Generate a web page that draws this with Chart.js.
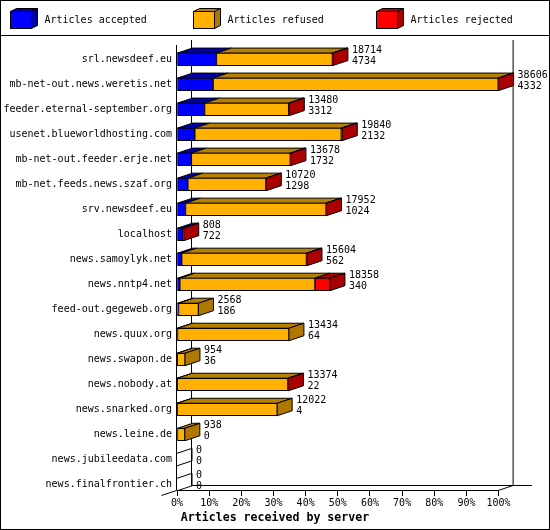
<!DOCTYPE html>
<html>
<head>
<meta charset="utf-8">
<title>Articles received by server</title>
<style>
  html, body { margin: 0; padding: 0; background: #fff; }
  canvas { display: block; }
</style>
<script src="https://cdn.jsdelivr.net/npm/chart.js@4/dist/chart.umd.min.js"></script>
</head>
<body>
<canvas id="myChart" width="550" height="530"></canvas>
<script>
const servers = [
  'srl.newsdeef.eu', 'mb-net-out.news.weretis.net', 'feeder.eternal-september.org',
  'usenet.blueworldhosting.com', 'mb-net-out.feeder.erje.net', 'mb-net.feeds.news.szaf.org',
  'srv.newsdeef.eu', 'localhost', 'news.samoylyk.net', 'news.nntp4.net',
  'feed-out.gegeweb.org', 'news.quux.org', 'news.swapon.de', 'news.nobody.at',
  'news.snarked.org', 'news.leine.de', 'news.jubileedata.com', 'news.finalfrontier.ch'
];
// the two numbers printed next to each bar
const totals = [18714, 38606, 13480, 19840, 13678, 10720, 17952, 808, 15604, 18358, 2568, 13434, 954, 13374, 12022, 938, 0, 0];
const accepted = [4734, 4332, 3312, 2132, 1732, 1298, 1024, 722, 562, 340, 186, 64, 36, 22, 4, 0, 0, 0];
// split of the rest
const refused = [13920, 34224, 10088, 17588, 11856, 9372, 16868, 0, 14972, 16218, 2382, 13370, 918, 13292, 12018, 938, 0, 0];
const rejected = [60, 50, 80, 120, 90, 50, 60, 86, 70, 1800, 0, 0, 0, 60, 0, 0, 0, 0];
const tickLabels = ['0%', '10%', '20%', '30%', '40%', '50%', '60%', '70%', '80%', '90%', '100%'];

const MONO = '"DejaVu Sans Mono", "Liberation Mono", monospace';
const DX = 15, DY = 5;  // depth of the 3d effect
const FRONT = ['#0000ff', '#ffb000', '#ff0000'];
const TOPS = ['#0000aa', '#b88000', '#aa0000'];
const SIDES = ['#0000aa', '#b07800', '#aa0000'];

const poly = (ctx, pts, fill) => {
  ctx.beginPath();
  pts.forEach((p, i) => i ? ctx.lineTo(p[0], p[1]) : ctx.moveTo(p[0], p[1]));
  ctx.closePath();
  if (fill) { ctx.fillStyle = fill; ctx.fill(); }
  ctx.stroke();
};

const line = (ctx, x1, y1, x2, y2) => {
  ctx.beginPath();
  ctx.moveTo(x1, y1);
  ctx.lineTo(x2, y2);
  ctx.stroke();
};

// frame, walls, 3d faces of the bars
const box3d = {
  id: 'box3d',
  afterLayout(chart) {
    // the title is centred on the whole picture, not on the plot
    chart.titleBlock.left = 0;
    chart.titleBlock.right = 550;
  },
  beforeDatasetsDraw(chart) {
    const ctx = chart.ctx;
    const xs = chart.scales.x;
    const left = xs.getPixelForValue(0) - 0.5;
    const right = xs.getPixelForValue(38606) - 0.5;
    ctx.save();
    ctx.strokeStyle = '#000';
    ctx.lineWidth = 1;
    // walls
    line(ctx, left + DX, 40, left + DX, 485.5);
    line(ctx, right + DX, 40, right + DX, 485.5);
    line(ctx, left + DX, 485.5, 532, 485.5);
    line(ctx, right, 490.5, right + DX, 485.5);
    line(ctx, left, 490.5, 161.5, 495.5);

    // faces of the bars, each segment gets its top, the last one gets the side
    servers.forEach((name, i) => {
      let last = -1;
      chart.data.datasets.forEach((ds, d) => {
        const el = chart.getDatasetMeta(d).data[i];
        const x1 = el.base, x2 = el.x, top = el.y - el.height / 2;
        if (ds.data[i] > 0) last = d;
        if (ds.data[i] > 0)
          poly(ctx, [[x1, top], [x1 + DX, top - DY], [x2 + DX, top - DY], [x2, top]], TOPS[d]);
      });
      const el = chart.getDatasetMeta(last < 0 ? 0 : last).data[i];
      const top = el.y - el.height / 2, bot = el.y + el.height / 2;
      if (last < 0) {
        line(ctx, el.x, top, el.x + DX, top - DY);
        line(ctx, el.x, bot, el.x + DX, bot - DY);
        line(ctx, el.x + DX, top - DY, el.x + DX, bot - DY);
      } else {
        poly(ctx, [[el.x, top], [el.x + DX, top - DY], [el.x + DX, bot - DY], [el.x, bot]], SIDES[last]);
      }
    });
    ctx.restore();
  },
  afterDatasetsDraw(chart) {
    const ctx = chart.ctx;
    const xs = chart.scales.x;
    const left = xs.getPixelForValue(0) - 0.5;
    ctx.save();
    ctx.strokeStyle = '#000';
    ctx.lineWidth = 1;
    line(ctx, left, 45, left, 490.5);

    // numbers next to the bars
    ctx.fillStyle = '#000';
    ctx.font = '10px ' + MONO;
    ctx.textAlign = 'left';
    ctx.textBaseline = 'middle';
    const lastSet = chart.getDatasetMeta(2).data;
    servers.forEach((name, i) => {
      const el = lastSet[i];
      ctx.fillText(totals[i], el.x + DX + 4, el.y - 9);
      ctx.fillText(accepted[i], el.x + DX + 4, el.y + 2);
    });

    // legend
    chart.data.datasets.forEach((ds, d) => {
      const x = 10.5 + d * 183, y = 11.5;
      poly(ctx, [[x, y], [x + 6, y - 3], [x + 27, y - 3], [x + 21, y]], TOPS[d]);
      poly(ctx, [[x + 21, y], [x + 27, y - 3], [x + 27, y + 14], [x + 21, y + 17]], SIDES[d]);
      ctx.fillStyle = FRONT[d];
      ctx.fillRect(x, y, 21, 17);
      ctx.strokeRect(x, y, 21, 17);
      ctx.fillStyle = '#000';
      ctx.fillText(ds.label, x + 34, 20);
    });

    // outer frame and legend separator
    ctx.strokeRect(0.5, 0.5, 549, 529);
    line(ctx, 0, 35.5, 550, 35.5);
    ctx.restore();
  }
};

const data = {
  labels: servers,
  datasets: [
    { label: 'Articles accepted', data: accepted, backgroundColor: FRONT[0] },
    { label: 'Articles refused', data: refused, backgroundColor: FRONT[1] },
    { label: 'Articles rejected', data: rejected, backgroundColor: FRONT[2] }
  ].map(ds => ({ ...ds, borderColor: '#000', borderWidth: 1, borderSkipped: false, barThickness: 12.5 }))
};

const config = {
  type: 'bar',
  data: data,
  plugins: [box3d],
  options: {
    indexAxis: 'y',
    responsive: false,
    animation: false,
    devicePixelRatio: 1,
    layout: { padding: { top: 46.8, right: 51.4, left: 0, bottom: 0 } },
    plugins: {
      legend: { display: false },
      tooltip: { enabled: false },
      title: {
        display: true,
        text: 'Articles received by server',
        position: 'bottom',
        color: '#000',
        font: { family: MONO, size: 11.6, weight: 'bold', lineHeight: 1.2 },
        padding: { top: 14, bottom: 5 }
      }
    },
    scales: {
      x: {
        stacked: true,
        min: 0,
        max: 38606,
        position: { y: 17.23 },
        grid: { drawOnChartArea: false, tickLength: 5, color: '#000' },
        border: { display: true, color: '#000' },
        ticks: {
          stepSize: 3860.6,
          autoSkip: false,
          maxRotation: 0,
          color: '#000',
          padding: 2,
          font: { family: MONO, size: 10 },
          callback: (v, i) => tickLabels[i]
        }
      },
      y: {
        stacked: true,
        grid: { display: false, tickLength: 0 },
        border: { display: false },
        afterFit: scale => { scale.width = 177; },
        ticks: {
          autoSkip: false,
          color: '#000',
          padding: 5,
          font: { family: MONO, size: 10 }
        }
      }
    }
  }
};

const myChart = new Chart(document.getElementById('myChart'), config);
</script>
</body>
</html>
